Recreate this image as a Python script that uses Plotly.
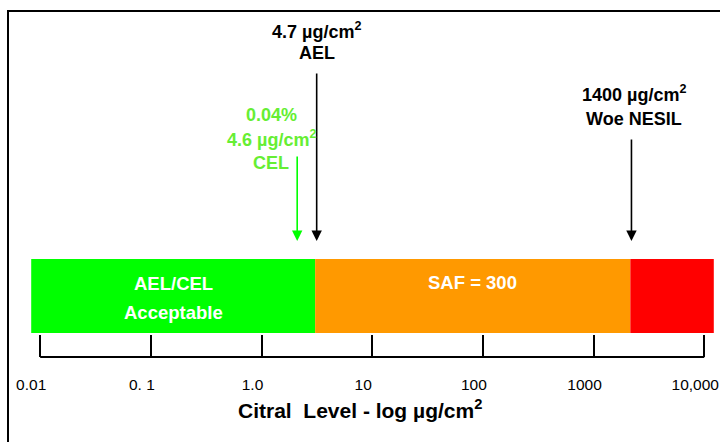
import math
import plotly.graph_objects as go

# ---- data ----
tick_vals = [0.01, 0.1, 1, 10, 100, 1000, 10000]
tick_text = ["0.01", "0. 1", "1.0", "10", "100", "1000", "10,000"]

zone_start = [0.0083, 3.05, 2150]
zone_end = [3.05, 2150, 12200]
zone_colors = ["#00FF00", "#FF9900", "#FF0000"]
zone_label_lines = [["AEL/CEL", "Acceptable"], ["SAF = 300"], []]

marker_values = [3.15, 2.1, 2200]          # arrow positions read on the axis
marker_colors = ["#000000", "#00FF00", "#000000"]
marker_text_colors = ["#000000", "#66EE33", "#000000"]
marker_label_lines = [
    ["4.7 µg/cm<sup>2</sup>", "AEL"],
    ["0.04%", "4.6 µg/cm<sup>2</sup>", "CEL"],
    ["1400 µg/cm<sup>2</sup>", "Woe NESIL"],
]

axis_title = "Citral\u00a0 Level - log µg/cm<sup>2</sup>"

# ---- layout helpers (pixel -> paper, plot area is 357 px tall) ----
PLOT_H = 357.0
def py(p):
    return 1 - p / PLOT_H

FONT = "Liberation Sans, Arial, sans-serif"

fig = go.Figure()
# invisible trace to establish the axes
fig.add_trace(go.Scatter(x=tick_vals, y=[0.5] * len(tick_vals), mode="markers",
                         marker=dict(opacity=0), hoverinfo="skip", showlegend=False))

shapes = []
annotations = []

# outer frame (left and top edges visible)
shapes.append(dict(type="rect", xref="paper", yref="paper",
                   x0=8 / 720, x1=1.05, y0=py(460), y1=py(11),
                   line=dict(color="black", width=2), fillcolor="rgba(0,0,0,0)"))

# coloured zones
bar_top, bar_bot = 259, 333
for s, e, c, lines in zip(zone_start, zone_end, zone_colors, zone_label_lines):
    shapes.append(dict(type="rect", xref="x", yref="paper", x0=s, x1=e,
                       y0=py(bar_bot), y1=py(bar_top), fillcolor=c,
                       line=dict(width=0), layer="below"))
    if lines:
        xm = (math.log10(s) + math.log10(e)) / 2
        ys = [283, 312] if len(lines) == 2 else [282]
        for t, yy in zip(lines, ys):
            annotations.append(dict(x=xm, y=py(yy), xref="x", yref="paper",
                                    text="<b>" + t + "</b>", showarrow=False,
                                    font=dict(family=FONT, size=18.5, color="white"),
                                    xanchor="center", yanchor="middle"))

# baseline of the scale
shapes.append(dict(type="line", xref="x", yref="paper", x0=tick_vals[0], x1=tick_vals[-1],
                   y0=0, y1=0, line=dict(color="black", width=2)))

# arrows and their labels
arrow_tails = [72, 155, 138]
label_ys = [[30, 53], [115, 139, 163], [94, 119]]
label_shift = [0, -26, 3]
for v, c, tc, lines, tail, ys, sh in zip(marker_values, marker_colors, marker_text_colors,
                                         marker_label_lines, arrow_tails, label_ys, label_shift):
    lv = math.log10(v)
    annotations.append(dict(x=lv, y=py(241), xref="x", yref="paper", text="",
                            showarrow=True, arrowhead=2, arrowsize=1.3, arrowwidth=1.6,
                            arrowcolor=c, ax=0, ay=tail - 241, standoff=0))
    for t, yy in zip(lines, ys):
        annotations.append(dict(x=lv, y=py(yy), xref="x", yref="paper", xshift=sh,
                                text="<b>" + t + "</b>", showarrow=False,
                                font=dict(family=FONT, size=18, color=tc),
                                xanchor="center", yanchor="middle"))

# axis title
annotations.append(dict(x=0.5, y=py(409), xref="paper", yref="paper",
                        text="<b>" + axis_title + "</b>", showarrow=False,
                        font=dict(family=FONT, size=21, color="black"),
                        xanchor="center", yanchor="middle"))

fig.update_layout(
    width=720, height=442,
    margin=dict(l=0, r=0, t=0, b=85),
    paper_bgcolor="white", plot_bgcolor="white",
    showlegend=False,
    shapes=shapes, annotations=annotations,
    xaxis=dict(type="log", range=[-2.3629, 4.1424], tickvals=tick_vals, ticktext=tick_text,
               ticks="inside", ticklen=22, tickwidth=1.5, tickcolor="black",
               showline=False, showgrid=False, zeroline=False,
               tickfont=dict(family=FONT, size=15.5, color="black"),
               ticklabelstandoff=16, ticklabelshift=-9, ticklabeloverflow="allow",
               fixedrange=True),
    yaxis=dict(range=[0, 1], visible=False, fixedrange=True),
)

fig.write_html("out.html", config={"displayModeBar": False},
               post_script="document.body.style.margin='0';")
